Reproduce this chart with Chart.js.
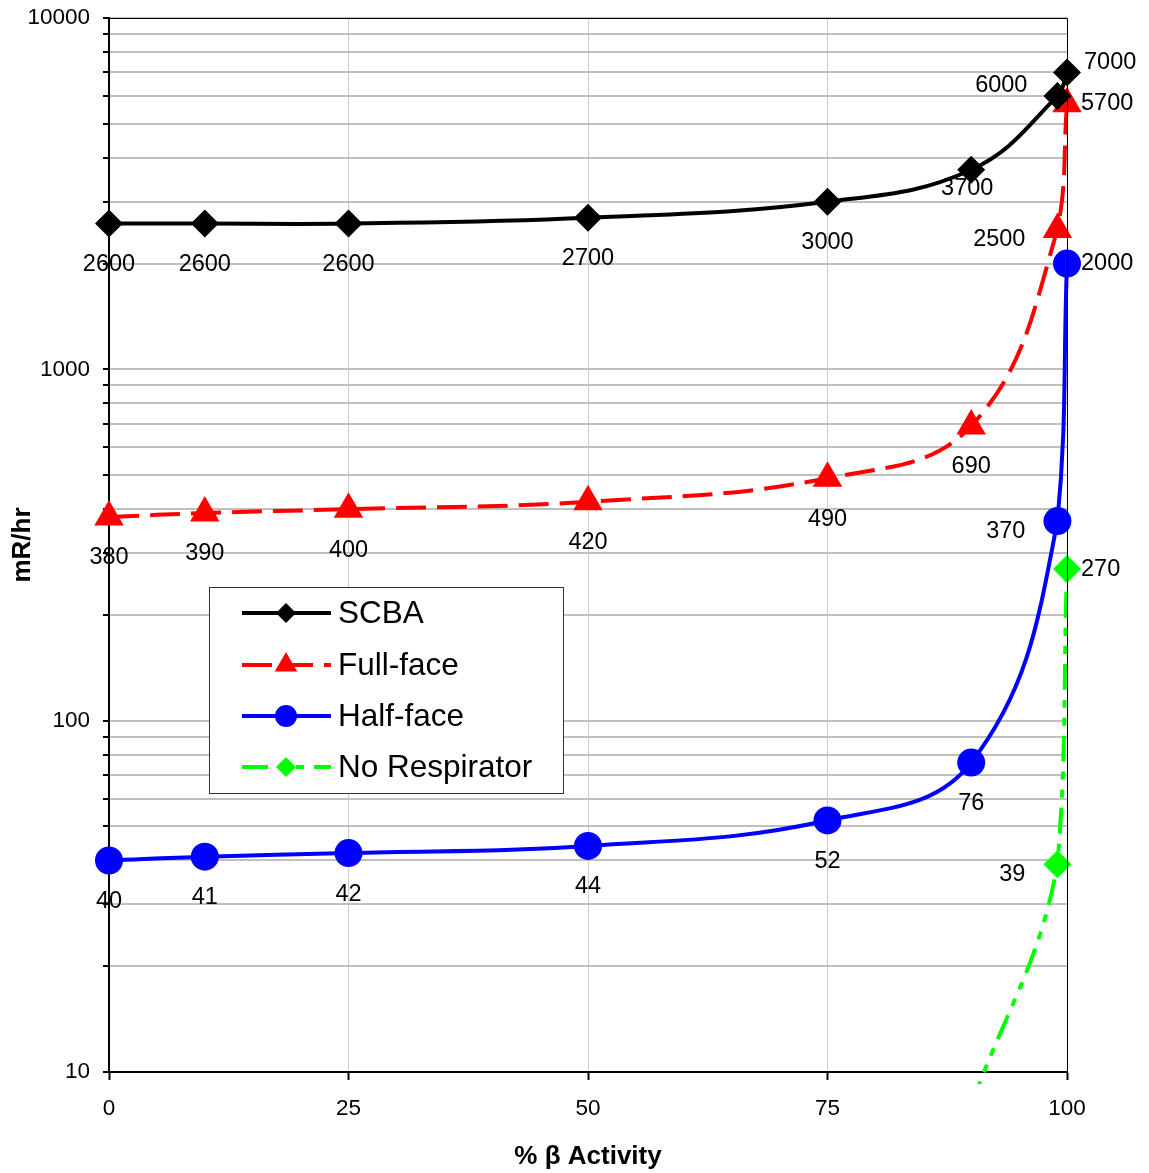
<!DOCTYPE html>
<html>
<head>
<meta charset="utf-8">
<script src="https://cdn.jsdelivr.net/npm/chart.js"></script>
<style>
  body { margin: 0; background: #fff; }
  canvas { display: block; }
</style>
</head>
<body>
<canvas id="chart" width="1149" height="1173"></canvas>
<script>
// % beta activity (x) and dose rates in mR/hr
const pctBeta = [0, 10, 25, 50, 75, 90, 99, 100];
const scba = [2600, 2600, 2600, 2700, 3000, 3700, 6000, 7000];
const fullFace = [380, 390, 400, 420, 490, 690, 2500, 5700];
const halfFace = [40, 41, 42, 44, 52, 76, 370, 2000];
const noRespX = [90, 99, 100];
const noResp = [8, 39, 270];

const xTicks = [0, 25, 50, 75, 100];
const yMajor = [10, 100, 1000, 10000];

// where each value label sits relative to its point
const scbaLabelPos = ['below', 'below', 'below', 'below', 'below', 'near', 'left-up', 'right-up'];
const fullLabelPos = ['below', 'below', 'below', 'below', 'below', 'below', 'left-down', 'right'];
const halfLabelPos = ['below', 'below', 'below', 'below', 'below', 'below', 'left-down', 'right'];
const noRespLabelPos = [null, 'left-down', 'right'];

const FONT = "'Liberation Sans', Arial, sans-serif";

const toPoints = (xs, ys) => xs.map((x, i) => ({ x: x, y: ys[i] }));

const valueLabels = {
  id: 'valueLabels',
  afterDatasetsDraw(chart) {
    const ctx = chart.ctx;
    ctx.save();
    ctx.font = '23.5px ' + FONT;
    ctx.fillStyle = '#000';
    ctx.textBaseline = 'middle';
    chart.data.datasets.forEach((ds, di) => {
      const meta = chart.getDatasetMeta(di);
      meta.data.forEach((pt, i) => {
        const pos = ds.labelPos[i];
        if (!pos) return;
        const txt = String(ds.data[i].y);
        let x = pt.x, y = pt.y;
        if (pos === 'below') { ctx.textAlign = 'center'; y += 41; }
        else if (pos === 'near') { ctx.textAlign = 'center'; x -= 4; y += 19; }
        else if (pos === 'left-up') { ctx.textAlign = 'right'; x -= 30; y -= 10; }
        else if (pos === 'left-down') { ctx.textAlign = 'right'; x -= 32; y += 10; }
        else if (pos === 'right-up') { ctx.textAlign = 'left'; x += 17; y -= 10; }
        else { ctx.textAlign = 'left'; x += 14; }
        ctx.fillText(txt, x, y);
      });
    });
    ctx.restore();
  }
};

function drawMarker(ctx, style, x, y, r, color) {
  ctx.save();
  ctx.setLineDash([]);
  ctx.fillStyle = color;
  ctx.beginPath();
  if (style === 'rectRot') {
    ctx.moveTo(x, y - r); ctx.lineTo(x + r, y); ctx.lineTo(x, y + r); ctx.lineTo(x - r, y);
  } else if (style === 'triangle') {
    ctx.moveTo(x, y - r);
    ctx.lineTo(x + r * Math.sin(2 * Math.PI / 3), y + r * 0.5);
    ctx.lineTo(x - r * Math.sin(2 * Math.PI / 3), y + r * 0.5);
  } else {
    ctx.arc(x, y, r, 0, Math.PI * 2);
  }
  ctx.closePath();
  ctx.fill();
  ctx.restore();
}

const boxLegend = {
  id: 'boxLegend',
  afterDraw(chart) {
    const ctx = chart.ctx;
    ctx.save();
    ctx.fillStyle = '#fff';
    ctx.fillRect(209.5, 587.5, 354, 206);
    ctx.strokeStyle = '#333';
    ctx.lineWidth = 1;
    ctx.strokeRect(209.5, 587.5, 354, 206);
    const rows = [613, 665, 716, 767];
    const sizes = { rectRot: 10, triangle: 13, circle: 11 };
    chart.data.datasets.forEach((ds, i) => {
      const y = rows[i];
      ctx.strokeStyle = ds.borderColor;
      ctx.lineWidth = 4;
      ctx.setLineDash(ds.borderDash || []);
      ctx.beginPath();
      ctx.moveTo(242, y); ctx.lineTo(331, y);
      ctx.stroke();
      drawMarker(ctx, ds.pointStyle, 286, y, sizes[ds.pointStyle], ds.borderColor);
      ctx.setLineDash([]);
      ctx.fillStyle = '#000';
      ctx.font = '31.5px ' + FONT;
      ctx.textAlign = 'left';
      ctx.textBaseline = 'middle';
      ctx.fillText(ds.label, 338, y + 1);
    });
    // thin frame on top and right of the plot
    const a = chart.chartArea;
    ctx.strokeStyle = '#000';
    ctx.lineWidth = 1;
    ctx.beginPath();
    ctx.moveTo(a.left, a.top + 0.5); ctx.lineTo(a.right + 0.5, a.top + 0.5);
    ctx.lineTo(a.right + 0.5, a.bottom);
    ctx.stroke();
    ctx.restore();
  }
};

const markerClip = { left: 20, right: 20, top: 20, bottom: 20 };

new Chart(document.getElementById('chart'), {
  type: 'line',
  data: {
    datasets: [
      {
        label: 'SCBA',
        data: toPoints(pctBeta, scba),
        labelPos: scbaLabelPos,
        borderColor: '#000000',
        backgroundColor: '#000000',
        borderWidth: 4,
        pointStyle: 'rectRot',
        pointRadius: 14,
        pointBorderWidth: 0,
        tension: 0.4,
        clip: markerClip
      },
      {
        label: 'Full-face',
        data: toPoints(pctBeta, fullFace),
        labelPos: fullLabelPos,
        borderColor: '#ff0000',
        backgroundColor: '#ff0000',
        borderWidth: 4,
        borderDash: [30, 11],
        pointStyle: 'triangle',
        pointRadius: 17,
        pointBorderWidth: 0,
        tension: 0.4,
        clip: markerClip
      },
      {
        label: 'Half-face',
        data: toPoints(pctBeta, halfFace),
        labelPos: halfLabelPos,
        borderColor: '#0000ff',
        backgroundColor: '#0000ff',
        borderWidth: 4,
        pointStyle: 'circle',
        pointRadius: 14,
        pointBorderWidth: 0,
        tension: 0.4,
        clip: markerClip
      },
      {
        label: 'No Respirator',
        data: toPoints(noRespX, noResp),
        labelPos: noRespLabelPos,
        borderColor: '#00ff00',
        backgroundColor: '#00ff00',
        borderWidth: 4,
        borderDash: [26, 10, 8, 10, 8, 10],
        pointStyle: 'rectRot',
        pointRadius: [0, 14, 14],
        pointBorderWidth: 0,
        tension: 0.4,
        clip: { left: 20, right: 20, top: 20, bottom: 12 }
      }
    ]
  },
  options: {
    responsive: false,
    animation: false,
    layout: { padding: { left: 0, top: 18, right: 82, bottom: 0 } },
    plugins: {
      legend: { display: false },
      tooltip: { enabled: false }
    },
    scales: {
      x: {
        type: 'linear',
        min: 0,
        max: 100,
        afterFit: s => { s.height = 101; s.paddingLeft = 0; s.paddingRight = 0; },
        afterBuildTicks: s => { s.ticks = xTicks.map(v => ({ value: v })); },
        ticks: { color: '#000', font: { family: FONT, size: 22.5 }, padding: 15, maxRotation: 0 },
        grid: { color: '#cbcbcb', lineWidth: 1, tickColor: '#000', tickWidth: 2, tickLength: 8 },
        border: { color: '#000', width: 2 },
        title: {
          display: true,
          text: '% β Activity',
          color: '#000',
          font: { family: FONT, size: 26, weight: 'bold' },
          padding: { top: 0, bottom: 1 }
        }
      },
      y: {
        type: 'logarithmic',
        min: 10,
        max: 10000,
        afterFit: s => { s.width = 109; s.paddingTop = 0; s.paddingBottom = 0; },
        afterBuildTicks: s => {
          const t = [];
          for (let d = 0; d < yMajor.length - 1; d++) {
            for (let m = 1; m < 10; m++) t.push({ value: yMajor[d] * m });
          }
          t.push({ value: yMajor[yMajor.length - 1] });
          s.ticks = t;
        },
        ticks: {
          autoSkip: false,
          color: '#000',
          font: { family: FONT, size: 22.5 },
          padding: 13,
          callback: v => (yMajor.includes(v) ? String(v) : '')
        },
        grid: { color: '#c0c0c0', lineWidth: 2, tickColor: '#000', tickWidth: 2, tickLength: 6 },
        border: { color: '#000', width: 2 },
        title: {
          display: true,
          text: 'mR/hr',
          color: '#000',
          font: { family: FONT, size: 26, weight: 'bold' },
          padding: { top: 7, bottom: 0 }
        }
      }
    }
  },
  plugins: [valueLabels, boxLegend]
});
</script>
</body>
</html>
